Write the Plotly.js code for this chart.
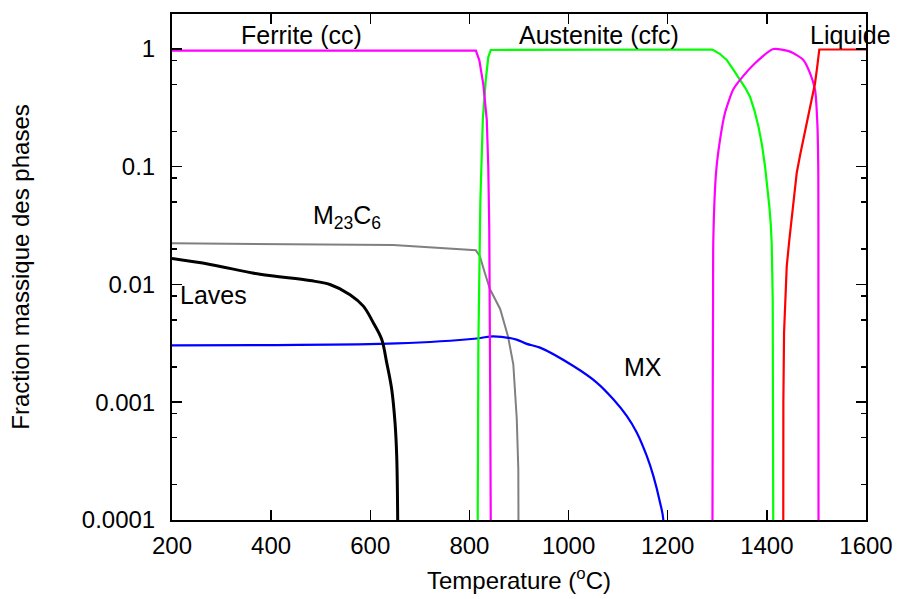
<!DOCTYPE html>
<html>
<head>
<meta charset="utf-8">
<script src="https://cdn.plot.ly/plotly-3.0.1.min.js"></script>
<style>html,body{margin:0;padding:0;background:#fff;}#chart{width:898px;height:599px;}</style>
</head>
<body>
<div id="chart"></div>
<script>
// Temperature (°C) and mass fraction for each phase
const ferriteT   = [200, 400, 600, 800, 813, 820, 828, 835, 838, 840, 841, 842, 843, 843.5];
const ferriteY   = [0.967, 0.972, 0.975, 0.978, 0.97, 0.8, 0.5, 0.25, 0.1, 0.03, 0.01, 0.001, 0.0001, 0.000001];

const austeniteT = [815, 816, 818, 822, 827, 833, 838, 843, 1000, 1200, 1290, 1305, 1319, 1332, 1345.9, 1356, 1366, 1375, 1383, 1390, 1396.4, 1401, 1405, 1408, 1409.8, 1411.8, 1413, 1413.5, 1414];
const austeniteY = [0.000001, 0.0001, 0.003, 0.05, 0.25, 0.55, 0.85, 0.98, 0.985, 0.99, 0.99, 0.91, 0.807, 0.67, 0.546, 0.47, 0.394, 0.3, 0.22, 0.155, 0.1, 0.068, 0.046, 0.032, 0.022, 0.0075, 0.001, 0.0001, 0.000001];

const deltaT     = [1290, 1290.3, 1290.8, 1291.5, 1292, 1297.5, 1305.5, 1315.6, 1331.8, 1345.9, 1376.2, 1413, 1447, 1473.6, 1487.1, 1497.2, 1501.8, 1503.8, 1504, 1504.2, 1504.5];
const deltaY     = [0.000001, 0.0001, 0.001, 0.0075, 0.024, 0.089, 0.169, 0.287, 0.45, 0.546, 0.757, 1.0, 0.949, 0.807, 0.623, 0.45, 0.236, 0.089, 0.01, 0.0001, 0.000001];

const liquidT    = [1432.8, 1433, 1433.3, 1434.7, 1436.7, 1440.1, 1445.4, 1452.2, 1460.3, 1467, 1473.6, 1480, 1487.1, 1492, 1497.2, 1501.5, 1505.8, 1600];
const liquidY    = [0.000001, 0.0001, 0.001, 0.0039, 0.0075, 0.0143, 0.024, 0.046, 0.089, 0.125, 0.169, 0.235, 0.324, 0.41, 0.512, 0.7, 0.99, 0.99];

const m23c6T     = [200, 400, 646, 813, 821, 831, 841.5, 862, 868, 878, 888.5, 895.5, 898.6, 900, 900.5];
const m23c6Y     = [0.0224, 0.0221, 0.0216, 0.0195, 0.0174, 0.0126, 0.0091, 0.0062, 0.0050, 0.0036, 0.0021, 0.00072, 0.00027, 0.0001, 0.000001];

const lavesT     = [200, 277, 377.5, 478, 518.7, 559.1, 586, 606.1, 623, 633.1, 643.2, 649.9, 653.3, 655.3, 655.8];
const lavesY     = [0.0166, 0.0148, 0.0122, 0.0108, 0.01, 0.0082, 0.00655, 0.00473, 0.00342, 0.00217, 0.00129, 0.00067, 0.00035, 0.0001, 0.000001];

const mxT        = [200, 400, 653, 815, 848, 895, 915.6, 942.4, 1009.6, 1056.8, 1090.3, 1117.3, 1137.5, 1157.7, 1171, 1184.5, 1191.2, 1192.5];
const mxY        = [0.00304, 0.00306, 0.00316, 0.00348, 0.00363, 0.0034, 0.00313, 0.00291, 0.00203, 0.00147, 0.00106, 0.000766, 0.000554, 0.00035, 0.000237, 0.000141, 0.0001, 0.000001];

const yTickVals  = [0.0001, 0.001, 0.01, 0.1, 1];
const yTickText  = ["0.0001", "0.001", "0.01", "0.1", "1"];
const yMinorVals = [0.0002, 0.0005, 0.0008, 0.002, 0.005, 0.008, 0.02, 0.05, 0.08, 0.2, 0.5, 0.8];
const xTickVals  = [200, 400, 600, 800, 1000, 1200, 1400, 1600];

const font = {family: "Liberation Sans, Arial, sans-serif", size: 24, color: "#000"};
const annFont = {family: "Liberation Sans, Arial, sans-serif", size: 25, color: "#000"};

function tr(x, y, color, width, smooth) {
  const line = {color: color, width: width};
  if (smooth) { line.shape = "spline"; line.smoothing = smooth; }
  return {x: x, y: y, type: "scatter", mode: "lines", line: line, hoverinfo: "skip", showlegend: false};
}

const data = [
  tr(m23c6T, m23c6Y, "#808080", 2),
  tr(mxT, mxY, "#0000ff", 2.2, 1),
  tr(lavesT, lavesY, "#000000", 3, 1),
  tr(austeniteT, austeniteY, "#00ff00", 2.2),
  tr(ferriteT, ferriteY, "#ff00ff", 2.2),
  tr(deltaT, deltaY, "#ff00ff", 2.2, 0.6),
  tr(liquidT, liquidY, "#ff0000", 2.2)
];

const layout = {
  width: 898, height: 599,
  margin: {l: 172, r: 32, t: 14, b: 79},
  paper_bgcolor: "#fff", plot_bgcolor: "#fff",
  font: font,
  xaxis: {
    range: [200, 1600], tickmode: "array", tickvals: xTickVals,
    ticks: "inside", ticklen: 10, tickwidth: 1.5, tickcolor: "#000",
    ticklabelstandoff: 3,
    showline: true, linewidth: 2, linecolor: "#000", mirror: "ticks",
    showgrid: false, zeroline: false,
    tickfont: font,
    title: {text: "Temperature (<sup>o</sup>C)", font: font, standoff: 14}
  },
  yaxis: {
    type: "log", range: [-4, 0.297],
    tickmode: "array", tickvals: yTickVals, ticktext: yTickText,
    ticks: "inside", ticklen: 10, tickwidth: 1.5, tickcolor: "#000",
    ticklabelstandoff: 10,
    minor: {tickmode: "array", tickvals: yMinorVals, ticks: "inside", ticklen: 5, tickwidth: 1.5, tickcolor: "#000", showgrid: false},
    showline: true, linewidth: 2, linecolor: "#000", mirror: "ticks",
    showgrid: false, zeroline: false,
    tickfont: font,
    title: {text: "Fraction massique des phases", font: font, standoff: 45}
  },
  annotations: [
    {x: 462, y: 0.119, text: "Ferrite (cc)", showarrow: false, font: annFont, xref: "x", yref: "y"},
    {x: 1061, y: 0.119, text: "Austenite (cfc)", showarrow: false, font: annFont, xref: "x", yref: "y"},
    {x: 1568, y: 0.119, text: "Liquide", showarrow: false, font: annFont, xref: "x", yref: "y"},
    {x: 553, y: -1.424, text: "M<sub>23</sub>C<sub>6</sub>", showarrow: false, font: annFont, xref: "x", yref: "y"},
    {x: 283, y: -2.085, text: "Laves", showarrow: false, font: annFont, xref: "x", yref: "y"},
    {x: 1150, y: -2.703, text: "MX", showarrow: false, font: annFont, xref: "x", yref: "y"}
  ]
};

Plotly.newPlot("chart", data, layout, {displayModeBar: false, staticPlot: true});
</script>
</body>
</html>
